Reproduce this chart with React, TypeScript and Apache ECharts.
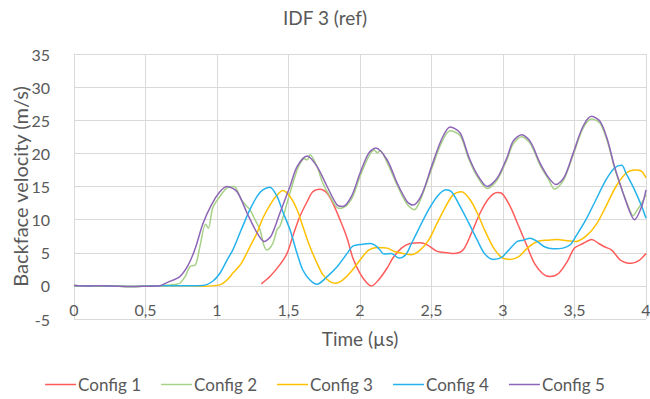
import React, { useEffect, useRef } from "react";
import * as echarts from "echarts";

const seriesNames = ["Config 1", "Config 2", "Config 3", "Config 4", "Config 5"];
const seriesColors = ["#FF5B5B", "#A6D186", "#FFC000", "#25B3EE", "#8E66B8"];

const baseline: [number, number][] = [
  [0, 0.05], [0.1, 0], [0.2, 0.03], [0.3, -0.05], [0.4, -0.1], [0.5, -0.05], [0.6, 0.02],
];

const config1: [number, number][] = [
  [1.31, 0.3], [1.37, 1.4], [1.44, 3.2], [1.49, 4.9], [1.53, 7.5], [1.58, 10.5], [1.63, 12.7],
  [1.67, 14.2], [1.72, 14.6], [1.77, 14.0], [1.81, 12.5], [1.86, 10.0], [1.91, 7.2], [1.95, 4.2],
  [2.0, 1.9], [2.05, 0.4], [2.08, 0.0], [2.13, 0.9], [2.19, 2.7], [2.23, 4.2], [2.29, 5.7],
  [2.35, 6.4], [2.42, 6.5], [2.47, 6.2], [2.54, 5.2], [2.61, 5.0], [2.66, 4.9], [2.72, 5.4],
  [2.78, 8.0], [2.84, 11.0], [2.9, 13.2], [2.96, 14.1], [2.99, 14.0], [3.05, 12.0], [3.11, 9.0],
  [3.17, 5.9], [3.22, 3.4], [3.28, 1.8], [3.33, 1.4], [3.39, 1.9], [3.45, 3.7], [3.5, 5.7],
  [3.56, 6.4], [3.62, 7.0], [3.67, 6.4], [3.71, 5.9], [3.76, 5.4], [3.82, 3.9], [3.86, 3.5],
  [3.9, 3.4], [3.95, 3.8], [3.98, 4.4], [4.0, 4.9],
];

const config2: [number, number][] = [
  [0.7, 0.2], [0.74, 0.4], [0.78, 1.5], [0.81, 2.9], [0.85, 3.2], [0.88, 5.9], [0.92, 9.3],
  [0.94, 8.7], [0.97, 11.8], [1.02, 13.5], [1.07, 14.8], [1.12, 15.0], [1.15, 14.0], [1.17, 13.0],
  [1.2, 12.2], [1.23, 11.5], [1.27, 9.8], [1.3, 8.5], [1.33, 6.0], [1.35, 5.4], [1.39, 6.4],
  [1.42, 8.5], [1.44, 9.0], [1.47, 11.0], [1.51, 14.0], [1.56, 17.5], [1.59, 18.8], [1.61, 19.2],
  [1.63, 19.0], [1.65, 19.8], [1.7, 18.0], [1.74, 15.5], [1.79, 13.5], [1.85, 11.7], [1.88, 11.8],
  [1.91, 12.2], [1.95, 13.5], [2.0, 16.5], [2.06, 19.5], [2.1, 20.5], [2.12, 20.1], [2.14, 20.4],
  [2.19, 18.6], [2.26, 15.2], [2.33, 12.3], [2.38, 11.5], [2.43, 13.4], [2.5, 17.6], [2.57, 21.6],
  [2.63, 23.4], [2.7, 22.7], [2.76, 19.2], [2.82, 16.5], [2.89, 14.7], [2.96, 16.0], [3.03, 19.2],
  [3.07, 21.4], [3.13, 22.5], [3.19, 21.5], [3.26, 18.2], [3.32, 16.0], [3.36, 14.6], [3.39, 15.0],
  [3.43, 16.2], [3.49, 19.7], [3.56, 23.8], [3.62, 25.2], [3.68, 24.5], [3.73, 21.8], [3.78, 17.8],
  [3.84, 14.0], [3.88, 11.8], [3.91, 10.6], [3.94, 11.5], [3.97, 12.5], [4.0, 13.8],
];

const config3: [number, number][] = [
  [0.8, 0.0], [0.9, -0.05], [1.02, 0.15], [1.07, 0.9], [1.11, 1.9], [1.17, 3.4], [1.23, 5.9],
  [1.28, 8.0], [1.32, 10.2], [1.37, 12.2], [1.42, 13.7], [1.46, 14.4], [1.51, 13.5], [1.56, 11.5],
  [1.6, 9.0], [1.65, 5.9], [1.7, 3.4], [1.74, 1.7], [1.79, 0.65], [1.83, 0.4], [1.88, 0.9],
  [1.94, 2.2], [2.0, 3.9], [2.06, 5.4], [2.12, 5.8], [2.19, 5.7], [2.24, 5.2], [2.3, 4.9],
  [2.36, 4.7], [2.42, 5.4], [2.48, 6.9], [2.54, 9.5], [2.6, 12.0], [2.65, 13.7], [2.71, 14.2],
  [2.77, 13.0], [2.82, 11.0], [2.87, 8.5], [2.93, 5.9], [2.99, 4.3], [3.05, 4.0], [3.11, 4.4],
  [3.17, 5.7], [3.24, 6.7], [3.31, 6.9], [3.38, 7.0], [3.45, 6.8], [3.51, 6.7], [3.58, 7.5],
  [3.65, 9.2], [3.72, 12.0], [3.79, 15.0], [3.86, 17.0], [3.92, 17.5], [3.97, 17.3], [4.0, 16.3],
];

const config4: [number, number][] = [
  [0.8, 0.02], [0.9, 0.05], [0.97, 0.7], [1.02, 1.9], [1.07, 3.9], [1.11, 5.4], [1.17, 8.5],
  [1.23, 11.5], [1.28, 13.5], [1.32, 14.5], [1.37, 14.9], [1.42, 13.5], [1.46, 11.2], [1.51, 8.5],
  [1.56, 4.9], [1.6, 2.4], [1.65, 0.9], [1.7, 0.25], [1.77, 1.4], [1.84, 2.9], [1.91, 4.9],
  [1.95, 6.0], [2.02, 6.3], [2.07, 6.4], [2.12, 5.9], [2.17, 4.8], [2.22, 4.9], [2.27, 4.2],
  [2.32, 4.7], [2.36, 6.4], [2.42, 9.0], [2.48, 11.5], [2.54, 13.5], [2.6, 14.5], [2.64, 14.2],
  [2.7, 12.0], [2.76, 9.5], [2.82, 6.9], [2.87, 4.9], [2.93, 4.0], [2.99, 4.3], [3.04, 5.4],
  [3.1, 6.7], [3.14, 6.9], [3.19, 7.2], [3.24, 6.7], [3.29, 5.9], [3.35, 5.6], [3.42, 5.7],
  [3.47, 6.2], [3.51, 7.5], [3.58, 10.0], [3.65, 13.0], [3.72, 16.0], [3.78, 17.8], [3.83, 18.2],
  [3.86, 17.0], [3.92, 14.5], [3.97, 12.0], [4.0, 10.2],
];

const config5: [number, number][] = [
  [0.65, 0.5], [0.74, 1.4], [0.8, 3.2], [0.85, 5.8], [0.9, 9.3], [0.96, 12.2], [1.02, 14.2],
  [1.07, 15.0], [1.14, 14.2], [1.21, 11.0], [1.28, 8.0], [1.33, 6.7], [1.38, 7.6], [1.44, 11.0],
  [1.51, 15.0], [1.56, 18.0], [1.63, 19.6], [1.7, 18.0], [1.77, 15.0], [1.84, 12.2], [1.88, 12.0],
  [1.94, 13.5], [2.0, 17.0], [2.06, 20.0], [2.11, 20.8], [2.19, 19.0], [2.26, 15.5], [2.33, 12.7],
  [2.37, 12.2], [2.43, 13.7], [2.5, 18.0], [2.57, 22.1], [2.63, 24.0], [2.7, 23.1], [2.76, 19.5],
  [2.82, 16.8], [2.89, 15.0], [2.96, 16.3], [3.03, 19.5], [3.07, 21.8], [3.13, 22.8], [3.19, 21.8],
  [3.26, 18.5], [3.32, 16.3], [3.37, 15.3], [3.43, 16.5], [3.49, 20.0], [3.56, 24.1], [3.62, 25.6],
  [3.68, 24.8], [3.73, 22.1], [3.78, 18.0], [3.84, 14.0], [3.89, 11.0], [3.92, 10.0], [3.97, 12.0],
  [4.0, 14.5],
];

const seriesData = [config1, [...baseline, ...config2], [...baseline, ...config3], [...baseline, ...config4], [...baseline, ...config5]];

const Y_MIN = -5;
const Y_MAX = 35;
const FONT = "Lato";
const TEXT = "#595959";
const GRID = "#d9d9d9";

const GRID_TOP = 54;
const GRID_BOTTOM = 80;
const CHART_H = 399;

export default function App() {
  const ref = useRef<HTMLDivElement>(null);
  useEffect(() => {
    document.body.style.margin = "0";
    if (!ref.current) return;
    const chart = echarts.init(ref.current, undefined, { renderer: "svg" });
    const plotH = CHART_H - GRID_TOP - GRID_BOTTOM;
    const zeroOffset = -(plotH * (0 - Y_MIN)) / (Y_MAX - Y_MIN);
    chart.setOption({
      animation: false,
      backgroundColor: "#ffffff",
      title: {
        text: "IDF 3 (ref)",
        left: "center",
        top: 8,
        padding: 0,
        textStyle: { fontFamily: FONT, fontSize: 19, fontWeight: "normal", color: TEXT },
      },
      legend: {
        data: seriesNames,
        left: "center",
        top: 376,
        padding: 0,
        icon: "rect",
        itemWidth: 31,
        itemHeight: 1.5,
        itemGap: 20,
        textStyle: { fontFamily: FONT, fontSize: 17, color: TEXT, padding: [0, 0, 0, -3] },
      },
      grid: {
        left: 74,
        right: 4,
        top: GRID_TOP,
        bottom: GRID_BOTTOM,
        containLabel: false,
        outerBoundsMode: "none",
      },
      xAxis: {
        type: "value",
        min: 0,
        max: 4,
        interval: 0.5,
        offset: zeroOffset,
        name: "Time (µs)",
        nameLocation: "middle",
        nameGap: 43,
        nameMoveOverlap: false,
        nameTextStyle: { fontFamily: FONT, fontSize: 19, color: TEXT },
        axisLine: { show: true, onZero: false, lineStyle: { color: GRID, width: 1 } },
        axisTick: { show: false },
        axisLabel: {
          margin: 16,
          fontFamily: FONT,
          fontSize: 16,
          color: TEXT,
          formatter: (v: number) => String(v).replace(".", ","),
        },
        splitLine: { show: true, lineStyle: { color: GRID, width: 1 } },
      },
      yAxis: {
        type: "value",
        min: Y_MIN,
        max: Y_MAX,
        interval: 5,
        name: "Backface velocity (m/s)",
        nameLocation: "middle",
        nameRotate: 90,
        nameGap: 44,
        nameMoveOverlap: false,
        nameTextStyle: { fontFamily: FONT, fontSize: 20, color: TEXT },
        axisLine: { show: true, onZero: false, lineStyle: { color: GRID, width: 1 } },
        axisTick: { show: false },
        axisLabel: { margin: 24, fontFamily: FONT, fontSize: 16, color: TEXT },
        splitLine: { show: true, lineStyle: { color: GRID, width: 1 } },
      },
      series: seriesNames.map((name, i) => ({
        name,
        type: "line",
        data: seriesData[i],
        smooth: 0.3,
        symbol: "none",
        color: seriesColors[i],
        lineStyle: { width: 1.5, color: seriesColors[i] },
        z: i === 4 ? 3 : 2,
      })),
    });
    return () => chart.dispose();
  }, []);
  return <div ref={ref} style={{ width: 650, height: 399 }} />;
}
